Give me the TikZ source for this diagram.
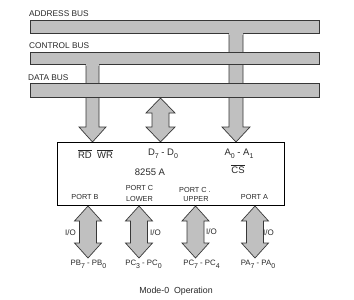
\documentclass[tikz,border=0pt]{standalone}
\usepackage{fontspec}
\setmainfont{Liberation Sans}
\definecolor{busgray}{RGB}{192,192,192}
\definecolor{edge}{RGB}{55,55,55}
\definecolor{ink}{RGB}{40,40,40}
\newcommand\lowsub[1]{\raisebox{-0.4em}{\fontsize{7}{7}\selectfont #1}}
\newcommand\mydbl[7]{%
  \filldraw[arrowsty] (#1,#2) -- ({#1+#6},#3) -- ({#1+#7},#3) -- ({#1+#7},#4) -- ({#1+#6},#4) -- (#1,#5)
    -- ({#1-#6},#4) -- ({#1-#7},#4) -- ({#1-#7},#3) -- ({#1-#6},#3) -- cycle;}
\begin{document}
\begin{tikzpicture}[x=1pt,y=-1pt,
  arrowsty/.style={fill=busgray,draw=edge,line width=0.7pt,line join=miter},
  bussty/.style={fill=busgray,draw=edge,line width=0.8pt},
  lbl/.style={inner sep=0pt,text=ink},
  buslbl/.style={lbl,anchor=base west,font=\fontsize{8.3}{10}\selectfont},
  chiplbl/.style={lbl,anchor=base,font=\fontsize{9.5}{11}\selectfont},
  portlbl/.style={lbl,anchor=base,font=\fontsize{7.3}{9}\selectfont},
  iolbl/.style={lbl,anchor=base west,font=\fontsize{8}{10}\selectfont},
  pinlbl/.style={lbl,anchor=base,font=\fontsize{7.8}{10}\selectfont},
  chip/.style={draw=black,line width=0.8pt,fill=white,minimum width=227pt,minimum height=63pt,inner sep=0pt}]
\useasboundingbox (0,0) rectangle (354,300);
\fill[white] (0,0) rectangle (354,300);
% address bus and its stem
\draw[bussty] (30,20) rectangle (319,33);
\filldraw[arrowsty] (229,33) -- (229,127) -- (222,127) -- (236,142) -- (250,127) -- (243,127) -- (243,33);
\fill[busgray] (229.4,31.5) rectangle (242.6,34.5);
% control bus and its stem
\draw[bussty] (30,52) rectangle (319,64);
\filldraw[arrowsty] (86,64) -- (86,127) -- (79,127) -- (92.5,142) -- (106,127) -- (99,127) -- (99,64);
\fill[busgray] (86.4,62.5) rectangle (98.6,65.5);
% data bus
\draw[bussty] (30,83) rectangle (319,97);
% data double arrow
\mydbl{160.5}{98}{113}{127}{142}{14.5}{8.5}
% bus labels
\node[buslbl] (la) at (29,16.7) {ADDRESS BUS};
\node[buslbl] (lc) at (29,48.3) {CONTROL BUS};
\node[buslbl] (ld) at (28,80) {DATA BUS};
% chip
\node[chip] (chip) at (170.5,173.5) {};
\node[chiplbl] (rdwr) at (95.5,158) {$\overline{\mbox{RD}}$\ \ $\overline{\mbox{WR}}$};
\node[chiplbl] (dd) at (163,155) {D\lowsub{7} - D\lowsub{0}};
\node[chiplbl] (aa) at (239,155) {A\lowsub{0} - A\lowsub{1}};
\node[chiplbl] (name) at (150,175) {8255 A};
\node[chiplbl] (cs) at (238,173.3) {$\overline{\mbox{CS}}$};
\node[portlbl] (pb) at (85,199.3) {PORT B};
\node[portlbl] (pcl1) at (139.5,190.7) {PORT C};
\node[portlbl] (pcl2) at (139.5,201) {LOWER};
\node[portlbl] (pcu1) at (195,192.7) {PORT C .};
\node[portlbl] (pcu2) at (196,201.7) {UPPER};
\node[portlbl] (pa) at (254.5,199.3) {PORT A};
% port arrows
\mydbl{88}{206}{221}{243}{258}{13.5}{8.5}
\mydbl{139}{206}{221}{243}{258}{13.5}{8.5}
\mydbl{195.5}{206}{221}{243}{258}{13.5}{8.5}
\mydbl{255}{206}{221}{243}{258}{13.5}{8.5}
\node[iolbl] (io1) at (65,235.7) {I/O};
\node[iolbl] (io2) at (150,235.7) {I/O};
\node[iolbl] (io3) at (206,234) {I/O};
\node[iolbl] (io4) at (263,235.7) {I/O};
\node[pinlbl] (pbp) at (88.5,265) {PB\lowsub{7} - PB\lowsub{0}};
\node[pinlbl] (pclp) at (143.5,265) {PC\lowsub{3} - PC\lowsub{0}};
\node[pinlbl] (pcup) at (201.5,265) {PC\lowsub{7} - PC\lowsub{4}};
\node[pinlbl] (pap) at (258,265) {PA\lowsub{7} - PA\lowsub{0}};
\node[lbl,anchor=base,font=\fontsize{8.8}{11}\selectfont] (mode) at (176,293.3) {Mode-0\ \ Operation};
\end{tikzpicture}
\end{document}
